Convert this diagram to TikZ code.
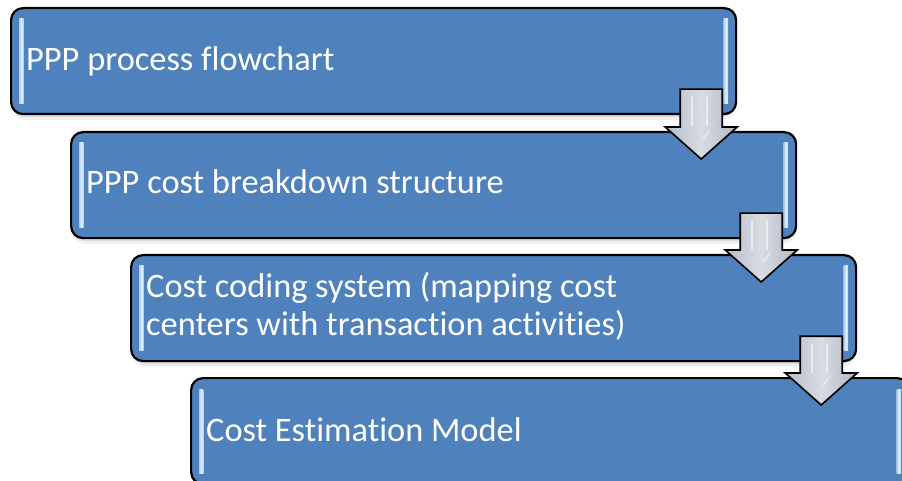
\documentclass[tikz,border=0pt]{standalone}
\usepackage{fontspec}
\setmainfont{Carlito}[Ligatures={NoCommon}]
\usetikzlibrary{calc}
\definecolor{boxblue}{HTML}{4F81BD}
\definecolor{stripelight}{HTML}{E4F1FF}
\definecolor{stripemid}{HTML}{A9CBEE}
\definecolor{arrowedge}{HTML}{C8D1E2}
\definecolor{arrowmid}{HTML}{F0F3F9}

\tikzset{
  stagebox/.style={draw=black, line width=2.2bp, fill=boxblue, rounded corners=12bp,
    minimum height=106bp, anchor=north west, inner sep=0pt},
  stagetext/.style={text=white, anchor=base west, inner sep=0pt,
    font=\fontsize{34.5}{38}\selectfont},
  boxshadow/.style={fill=black, rounded corners=12bp},
  bevel/.style={left color=stripemid, right color=stripemid, middle color=stripelight},
  flowarrow/.style={draw=black, line width=1.6bp, line join=miter,
    left color=arrowedge, right color=arrowedge!90!gray, middle color=arrowmid, fill opacity=0.9},
  arrowgloss/.style={white, line width=2.5bp, opacity=0.55, line cap=round}
}

% soft shadow, box and the two light bevels at its sides
\newcommand\stage[3]{%
  \fill[boxshadow, opacity=0.06] ($(#2)+(3,5)$) rectangle ($(#2)+(#3,113)$);
  \fill[boxshadow, opacity=0.08] ($(#2)+(2,3)$) rectangle ($(#2)+(#3-1,110)$);
  \node[stagebox, minimum width=#3bp] (#1) at (#2) {};
  \fill[bevel] ($(#1.north west)+(9,12)$) rectangle ($(#1.south west)+(13.5,-12)$);
  \fill[bevel] ($(#1.north east)+(-13.5,12)$) rectangle ($(#1.south east)+(-9,-12)$);
}

% block arrow leading from one stage down into the next
\newcommand\flowdown[3]{%
  \coordinate (#3top) at ($(#1.south east)+(-36,-26)$);
  \coordinate (#3tip) at ($(#3top |- #2.north)+(0,28)$);
  \filldraw[flowarrow] ($(#3top)+(-21,0)$) -- ($(#3top)+(21,0)$)
    -- ($(#3tip)+(21,-32)$) -- ($(#3tip)+(36,-32)$) -- (#3tip)
    -- ($(#3tip)+(-36,-32)$) -- ($(#3tip)+(-21,-32)$) -- cycle;
  \draw[arrowgloss] ($(#3top)+(-9,8)$) -- ($(#3top)+(-9,36)$);
  \draw[arrowgloss] ($(#3top)+(6,8)$) -- ($(#3top)+(6,36)$);
  \draw[arrowgloss, opacity=0.35] ($(#3tip)+(2,-20)$) -- ($(#3tip)+(8,-28)$);
}

\begin{document}
\begin{tikzpicture}[x=1bp, y=-1bp]
  \useasboundingbox (0,0) rectangle (902,481);
  \clip (0,0) rectangle (902,481);

  \coordinate (p1) at (10,7);
  \coordinate (p2) at (70,131);
  \coordinate (p3) at (130,254);
  \coordinate (p4) at (190,377);

  \stage{s1}{p1}{725}
  \stage{s2}{p2}{725}
  \stage{s3}{p3}{725}
  \stage{s4}{p4}{718}

  \node[stagetext] (t1) at (26,71) {PPP process flowchart};
  \node[stagetext] (t2) at (86,194) {PPP cost breakdown structure};
  \node[stagetext] (t3) at (146,298)
    {\begin{tabular}[t]{@{}l@{}}Cost coding system (mapping cost\\centers with transaction activities)\end{tabular}};
  \node[stagetext] (t4) at (206,441) {Cost Estimation Model};

  \flowdown{s1}{s2}{a1}
  \flowdown{s2}{s3}{a2}
  \flowdown{s3}{s4}{a3}
\end{tikzpicture}
\end{document}
